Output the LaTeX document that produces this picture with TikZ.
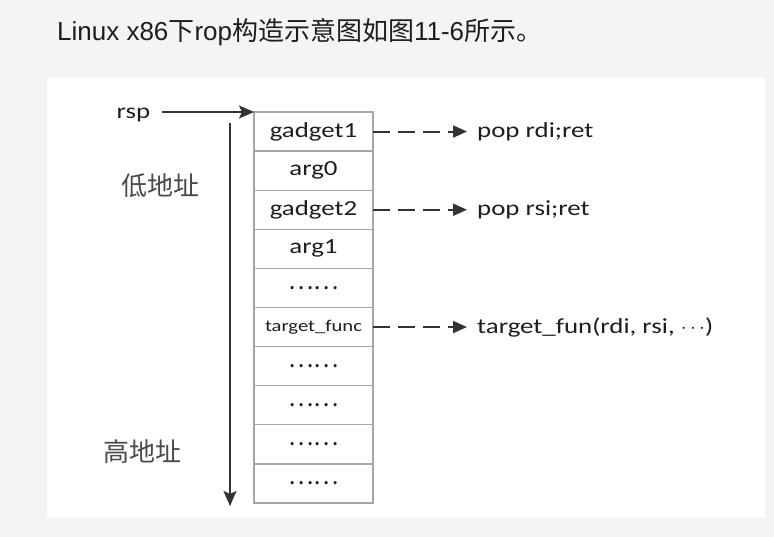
\documentclass[tikz,border=0pt]{standalone}
\usepackage{fontspec}
\setmainfont{Carlito}[FakeStretch=1.25]
\newfontfamily\cjkfont{Noto Sans CJK SC}
\newfontfamily\titlefont{Liberation Sans}
\usetikzlibrary{arrows.meta, positioning}
\definecolor{pagegray}{HTML}{F4F4F4}
\definecolor{inkdark}{HTML}{333333}
\definecolor{inktext}{HTML}{1E1E1E}
\definecolor{inkcjk}{HTML}{4A4A4A}
\definecolor{cellline}{HTML}{A6A6A6}
\tikzset{
  cell/.style={draw=cellline, line width=1.3pt, fill=white, text=inktext,
    minimum width=119pt, minimum height=39.1pt, inner sep=0pt, outer sep=0pt},
  gadgetlabel/.style={anchor=west, inner sep=0pt, text=inktext},
  addrlabel/.style={text=inkcjk, inner sep=0pt, font=\cjkfont\fontsize{26}{30}\selectfont},
  solidarrow/.style={-{Stealth[length=15pt, width=13pt, inset=3pt]}, inkdark, line width=2pt},
  dasharrow/.style={-{Triangle[length=14pt, width=12pt]}, inkdark, line width=2pt,
    dash pattern=on 17pt off 8pt, shorten >=10pt}
}
\newcommand{\stackcell}[3]{%
  \node[cell] (#1) at (313.5,#2) {#3};}
\newcommand{\moredots}{{\cjkfont\fontsize{24}{28}\selectfont ……}}

\begin{document}
\begin{tikzpicture}[x=1pt, y=-1pt, font=\fontsize{21.5}{25}\selectfont]
  % page and panel
  \fill[pagegray] (0,0) rectangle (774,537);
  \useasboundingbox (0,0) rectangle (774,537);
  \fill[white] (47,78) rectangle (765,518);
  \node[anchor=base west, inner sep=0pt, text=inktext,
        font=\titlefont\fontsize{26}{30}\selectfont] (title) at (57,41)
    {Linux x86{\cjkfont 下}rop{\cjkfont 构造示意图如图}11-6{\cjkfont 所示。}};

  % the stack
  \stackcell{c0}{131.55}{gadget1}
  \stackcell{c1}{170.65}{arg0}
  \stackcell{c2}{209.75}{gadget2}
  \stackcell{c3}{248.85}{arg1}
  \stackcell{c4}{287.95}{\moredots}
  \stackcell{c5}{327.05}{\fontsize{16.5}{19}\selectfont target\_func}
  \stackcell{c6}{366.15}{\moredots}
  \stackcell{c7}{405.25}{\moredots}
  \stackcell{c8}{444.35}{\moredots}
  \stackcell{c9}{483.45}{\moredots}

  \node[anchor=base, inner sep=0pt, text=inktext] (rsp) at (133.5,119) {rsp};
  \draw[solidarrow, shorten <=12pt] (rsp.east |- c0.north west) -- (c0.north west);

  \node[addrlabel] (low) at (160,186) {低地址};
  \node[addrlabel] (high) at (142,452) {高地址};
  \coordinate (top) at (230,123);
  \coordinate (bottom) at (230,506);
  \draw[solidarrow] (top) -- (bottom);

  % gadgets
  \node[gadgetlabel] (l0) at (477,131.55) {pop rdi;ret};
  \node[gadgetlabel] (l2) at (477,209.75) {pop rsi;ret};
  \node[gadgetlabel] (l5) at (477,327.05) {target\_fun(rdi, rsi, \ensuremath{\cdots})};
  \draw[dasharrow] (c0.east) -- (l0.west);
  \draw[dasharrow] (c2.east) -- (l2.west);
  \draw[dasharrow] (c5.east) -- (l5.west);
\end{tikzpicture}
\end{document}
